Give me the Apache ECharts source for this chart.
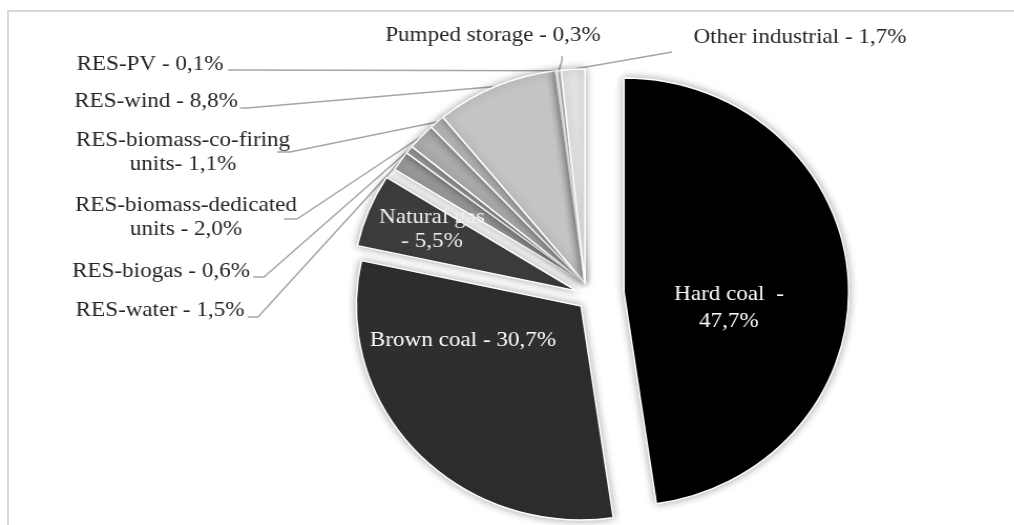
<!DOCTYPE html>
<html>
<head>
<meta charset="utf-8">
<script src="https://cdn.jsdelivr.net/npm/echarts@6/dist/echarts.min.js"></script>
<style>
html, body { margin: 0; padding: 0; background: #fff; overflow: hidden; }
#wrap { position: absolute; left: 0; top: 0; width: 1014px; height: 525px; overflow: hidden; }
#frame { position: absolute; left: 7px; top: 10px; width: 1200px; height: 700px; border-left: 2px solid #d9d9d9; border-top: 2px solid #d9d9d9; }
#chart { position: absolute; left: 0; top: 0; width: 966px; height: 525px; transform: scaleX(1.05); transform-origin: 0 0; }
</style>
</head>
<body>
<div id="wrap"><div id="frame"></div><div id="chart"></div></div>
<script>
// data
var categories = ['Hard coal', 'Brown coal', 'Natural gas', 'RES-water', 'RES-biogas',
  'RES-biomass-dedicated units', 'RES-biomass-co-firing units', 'RES-wind', 'RES-PV',
  'Pumped storage', 'Other industrial'];
var shares = [47.7, 30.7, 5.5, 1.5, 0.6, 2.0, 1.1, 8.8, 0.1, 0.3, 1.7];
var labelNames = ['Hard coal  -\n', 'Brown coal - ', 'Natural gas\n- ', 'RES-water - ', 'RES-biogas - ',
  'RES-biomass-dedicated\nunits - ', 'RES-biomass-co-firing\nunits- ', 'RES-wind - ', 'RES-PV - ',
  'Pumped storage - ', 'Other industrial - '];

// look
var sliceColors = ['#000000', '#2e2e2e', '#3f3d3b', '#9a9a9a', '#a3a3a3', '#acacac',
  '#b8b8b8', '#c4c4c4', '#d0d0d0', '#d9d9d9', '#e3e3e3'];
var STRETCH = 1.05; // picture is a bit wider than tall
var groups = [[3, 4, 5, 6, 7, 8, 9, 10], [2], [1], [0]];   // exploded pieces
var groupCenters = [[585, 283], [577, 291], [581, 306], [624, 292]];
var labelSpots = [[729, 308], [463, 340], [432, 229], [160, 310], [161, 271], [186, 217],
  [183, 152], [156, 101], [150, 64], [493, 35], [800, 37]];
// [startX, startY, bendX, bendY] of leader lines at the label side
var leaderEnds = [null, null, null, [248, 317, 258, 317], [253, 277, 264, 277], [284, 219, 297, 219],
  [277, 152, 290, 152], [240, 108, 247, 108], [228, 70, 236, 70], [562, 56, 562, 60], [672, 52, 668, 52.7]];

var fontFamily = "'Liberation Serif', 'Times New Roman', serif";

function fmt(v) {
  return v.toFixed(1).replace('.', ',') + '%';
}

var chart = echarts.init(document.getElementById('chart'));

var series = groups.map(function (members, g) {
  return {
    type: 'pie',
    radius: 214,
    center: [groupCenters[g][0] / STRETCH, groupCenters[g][1]],
    startAngle: 90,
    clockwise: true,
    avoidLabelOverlap: false,
    silent: true,
    animation: false,
    label: {
      fontFamily: fontFamily,
      fontSize: 22,
      lineHeight: 24,
      formatter: function (p) {
        return labelNames[p.dataIndex] + fmt(p.value);
      }
    },
    labelLine: {
      length: 10,
      length2: 10,
      lineStyle: { color: '#a5a5a5', width: 1.5 }
    },
    labelLayout: function (params) {
      var i = params.dataIndex;
      if (members.indexOf(i) < 0) return {};
      var spot = labelSpots[i];
      var out = { x: spot[0] / STRETCH, y: spot[1], align: 'center', verticalAlign: 'middle' };
      var lead = leaderEnds[i];
      if (lead && params.labelLinePoints) {
        out.labelLinePoints = [
          params.labelLinePoints[0],
          [lead[2] / STRETCH, lead[3]],
          [lead[0] / STRETCH, lead[1]]
        ];
      }
      return out;
    },
    data: categories.map(function (name, i) {
      var on = members.indexOf(i) >= 0;
      if (!on) {
        return {
          name: name, value: shares[i],
          itemStyle: { color: 'rgba(0,0,0,0)', borderWidth: 0, shadowBlur: 0 },
          label: { show: false }, labelLine: { show: false }
        };
      }
      var inside = i < 3;
      return {
        name: name, value: shares[i],
        itemStyle: {
          color: sliceColors[i],
          borderColor: '#ffffff',
          borderWidth: 1.5,
          shadowBlur: 9,
          shadowColor: 'rgba(0,0,0,0.35)'
        },
        label: {
          show: true,
          position: inside ? 'inside' : 'outside',
          color: inside ? (i === 2 ? '#eeeeee' : '#ffffff') : '#262626',
          lineHeight: i === 0 ? 27 : 24
        },
        labelLine: { show: !inside }
      };
    })
  };
});

chart.setOption({
  backgroundColor: 'transparent',
  animation: false,
  series: series
});
</script>
</body>
</html>
